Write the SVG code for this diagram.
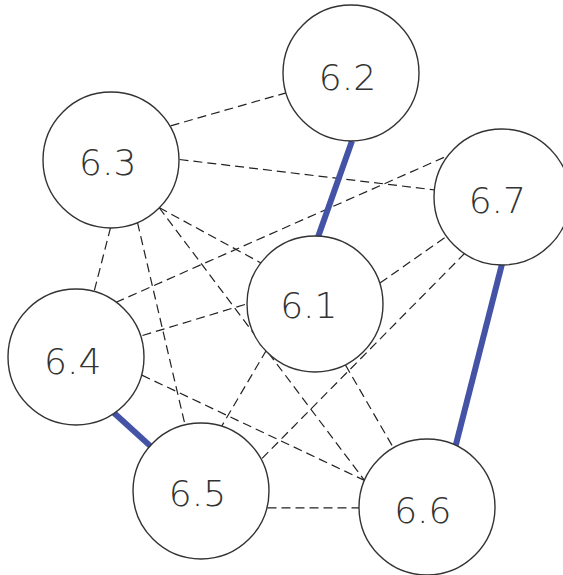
<svg xmlns="http://www.w3.org/2000/svg" width="563" height="575" viewBox="0 0 563 575">
<style>
.n circle{fill:#fff;stroke:#333;stroke-width:1.4}
.n text{font-family:"DejaVu Sans",sans-serif;font-weight:200;font-size:36px;fill:#333;text-anchor:middle}
.d{stroke:#222;stroke-width:1.2;stroke-dasharray:9 5;fill:none}
.b{stroke:#4453a6;stroke-width:6;fill:none}
</style>
<rect width="563" height="575" fill="#fff"/>
<g id="connectors">
<line class="d" x1="170.6" y1="125.8" x2="286.2" y2="92.8"/>
<line class="d" x1="179.5" y1="159.5" x2="435.5" y2="190"/>
<line class="d" x1="115.6" y1="302.5" x2="451.7" y2="154"/>
<line class="d" x1="110.6" y1="227.4" x2="94.1" y2="291.5"/>
<line class="d" x1="137.5" y1="222.6" x2="184.9" y2="424.3"/>
<line class="d" x1="159" y1="207.5" x2="261" y2="263"/>
<line class="d" x1="159" y1="207.5" x2="364.5" y2="480.4"/>
<line class="d" x1="141.8" y1="375.1" x2="364.5" y2="480.4"/>
<line class="d" x1="142.5" y1="335.5" x2="247.8" y2="303.6"/>
<line class="d" x1="379.9" y1="283.1" x2="446.3" y2="236.5"/>
<line class="d" x1="266.4" y1="350.2" x2="221.5" y2="426.5"/>
<line class="d" x1="465" y1="253" x2="262.1" y2="458.4"/>
<line class="d" x1="345.4" y1="364.9" x2="393.2" y2="447.4"/>
<line class="d" x1="267.5" y1="507.9" x2="360.1" y2="507.9"/>
<line class="b" x1="352" y1="141" x2="318" y2="237"/>
<line class="b" x1="502" y1="264" x2="455.3" y2="447"/>
<line class="b" x1="113.5" y1="412.5" x2="151" y2="446.6"/>
</g>
<g id="n62" class="n"><circle cx="351" cy="73" r="68"/><text x="347.5" y="90">6.2</text></g>
<g id="n63" class="n"><circle cx="111" cy="160" r="68"/><text x="107.7" y="175">6.3</text></g>
<g id="n67" class="n"><circle cx="502" cy="197" r="68"/><text x="497.3" y="212.5">6.7</text></g>
<g id="n61" class="n"><circle cx="315" cy="304" r="68"/><text x="308.8" y="318">6.1</text></g>
<g id="n64" class="n"><circle cx="76" cy="357" r="68"/><text x="72.7" y="374">6.4</text></g>
<g id="n65" class="n"><circle cx="201" cy="491" r="68"/><text x="197.5" y="506">6.5</text></g>
<g id="n66" class="n"><circle cx="427" cy="507" r="68"/><text x="422.8" y="522.5">6.6</text></g>
</svg>
